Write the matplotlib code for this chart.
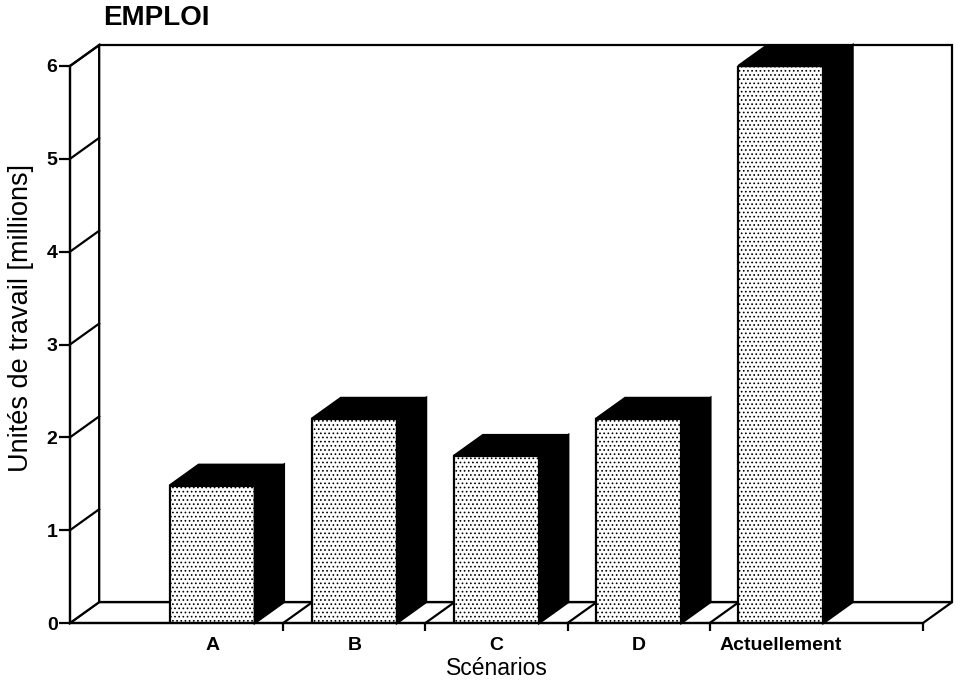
import numpy as np
import matplotlib
matplotlib.use("Agg")
import matplotlib.pyplot as plt
from matplotlib.patches import Polygon

plt.rcParams['font.family'] = ['Liberation Sans', 'DejaVu Sans']
plt.rcParams['hatch.linewidth'] = 0.7
plt.rcParams['hatch.color'] = '#555555'

# Données
scenarios = ["A", "B", "C", "D", "Actuellement"]
emploi = [1.48, 2.2, 1.8, 2.2, 6.0]   # millions d'unités de travail
yticks = [0, 1, 2, 3, 4, 5, 6]

x = np.arange(len(scenarios))
largeur = 0.6
dx, dy = 0.205, 0.225   # profondeur de l'effet 3D (unités des données)
xmin, xmax = -1, 5
ymax = 6

fig = plt.figure(figsize=(9.58, 6.82), dpi=100)
ax = fig.add_axes([70/958, 59/682, 853/958, 557/682])
ax.set_xlim(xmin, xmax)
ax.set_ylim(0, ymax)

lw = 1.6
# sol
sol = Polygon([(xmin, 0), (xmax, 0), (xmax + dx, dy), (xmin + dx, dy)],
              closed=True, facecolor='white', edgecolor='black', lw=lw,
              clip_on=False, zorder=1)
ax.add_patch(sol)
# mur du fond
fond = Polygon([(xmin + dx, dy), (xmax + dx, dy), (xmax + dx, ymax + dy), (xmin + dx, ymax + dy)],
               closed=True, facecolor='white', edgecolor='black', lw=lw,
               clip_on=False, zorder=1)
ax.add_patch(fond)
# mur de gauche avec lignes de graduation
gauche = Polygon([(xmin, 0), (xmin + dx, dy), (xmin + dx, ymax + dy), (xmin, ymax)],
                 closed=True, facecolor='white', edgecolor='black', lw=lw,
                 clip_on=False, zorder=1)
ax.add_patch(gauche)
for t in yticks[1:]:
    ax.plot([xmin, xmin + dx], [t, t + dy], color='black', lw=lw, clip_on=False, zorder=1)
# lignes du sol entre catégories
for b in list(x[:-1] + 0.5):
    ax.plot([b, b + dx], [0, dy], color='black', lw=lw, clip_on=False, zorder=1)

# barres
for xi, v in zip(x, emploi):
    g, d = xi - largeur/2, xi + largeur/2
    ax.bar(xi, v, width=largeur, facecolor='white', edgecolor='black', lw=lw,
           hatch='....', zorder=3)
    dessus = Polygon([(g, v), (d, v), (d + dx, v + dy), (g + dx, v + dy)],
                     closed=True, facecolor='black', edgecolor='black', lw=lw,
                     clip_on=False, zorder=3)
    cote = Polygon([(d, 0), (d + dx, dy), (d + dx, v + dy), (d, v)],
                   closed=True, facecolor='black', edgecolor='black', lw=lw,
                   clip_on=False, zorder=3)
    ax.add_patch(dessus)
    ax.add_patch(cote)

# axes
for s in ['top', 'right']:
    ax.spines[s].set_visible(False)
for s in ['left', 'bottom']:
    ax.spines[s].set_linewidth(lw)
    ax.spines[s].set_zorder(5)

ax.set_yticks(yticks)
ax.set_yticklabels([str(t) for t in yticks], fontsize=14, fontweight='bold')
ax.tick_params(axis='y', length=8, width=lw, pad=1)

ax.set_xticks(x)
ax.set_xticklabels(scenarios, fontsize=14, fontweight='bold')
ax.tick_params(axis='x', which='major', length=0, pad=10)
ax.set_xticks(list(x[:-1] + 0.5) + [xmax], minor=True)
ax.tick_params(axis='x', which='minor', length=6, width=lw, direction='out')

ax.set_xlabel("Scénarios", fontsize=16.5, labelpad=2)
ax.set_ylabel("Unités de travail [millions]", fontsize=19.5)
ax.yaxis.set_label_coords(-0.058, 0.548)
ax.yaxis.label.set_va('center')

fig.text(103/958, 1 - 18/682, "EMPLOI", fontsize=20, fontweight='bold',
         ha='left', va='center')

fig.savefig("out.png", dpi=100)
